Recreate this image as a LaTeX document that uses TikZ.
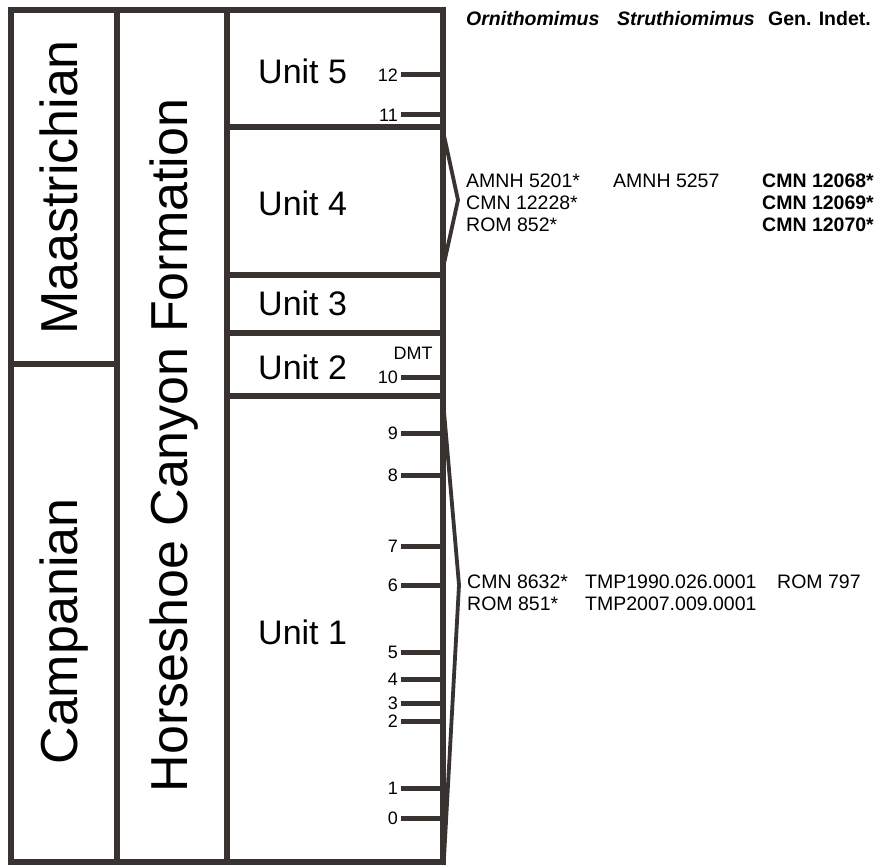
\documentclass[tikz,border=0pt]{standalone}
\usepackage{fontspec}
\setmainfont{Liberation Sans}
\definecolor{frame}{RGB}{56,50,48}
\tikzset{
  frameline/.style={draw=frame,line width=6.5pt,line cap=rect},
  tickline/.style={draw=frame,line width=5pt},
  bracketline/.style={draw=frame,line width=3.8pt,line join=miter},
  biglabel/.style={inner sep=0pt,anchor=base,rotate=90,font=\fontsize{52}{60}\selectfont},
  unitlabel/.style={inner sep=0pt,anchor=base west,font=\fontsize{34}{40}\selectfont},
  ticklabel/.style={inner sep=0pt,anchor=east,font=\fontsize{18}{20}\selectfont},
  spec/.style={inner sep=0pt,anchor=base west,font=\fontsize{19.5}{22}\selectfont},
  specb/.style={spec,font=\fontsize{19.5}{22}\selectfont\bfseries},
  specbi/.style={spec,font=\fontsize{19.5}{22}\selectfont\bfseries\itshape}
}
\begin{document}
\begin{tikzpicture}[x=1pt,y=-1pt]
\useasboundingbox (0,0) rectangle (877,866);
% frame coordinates
\coordinate (tl) at (11,10);
\coordinate (tr) at (443,10);
\coordinate (bl) at (11,862);
\coordinate (br) at (443,862);
% outer frame
\draw[frameline] (tl) -- (tr) -- (br) -- (bl) -- cycle;
% column dividers
\draw[frameline] (117,10) -- (117,862);
\draw[frameline] (227,10) -- (227,862);
% stage divider
\draw[frameline] (11,364) -- (117,364);
% unit dividers
\draw[frameline] (227,127) -- (443,127);
\draw[frameline] (227,275) -- (443,275);
\draw[frameline] (227,333) -- (443,333);
\draw[frameline] (227,396) -- (443,396);
% big labels
\node[biglabel] (maas) at (77,187.5) {Maastrichian};
\node[biglabel] (camp) at (77,631.5) {Campanian};
\node[biglabel] (hcf) at (187,445.5) {Horseshoe Canyon Formation};
% unit labels
\node[unitlabel] (u5) at (258,84) {Unit 5};
\node[unitlabel] (u4) at (258,216) {Unit 4};
\node[unitlabel] (u3) at (258,315) {Unit 3};
\node[unitlabel] (u2) at (258,379) {Unit 2};
\node[unitlabel] (u1) at (258,644) {Unit 1};
% ticks
\foreach \n/\y in {12/75,11/115,10/377,9/433,8/475,7/546,6/585,5/652,4/679,3/703,2/721,1/788,0/818}{
  \coordinate (t\n a) at (401,\y);
  \coordinate (t\n b) at (443,\y);
  \draw[tickline] (t\n a) -- (t\n b);
  \node[ticklabel] (l\n) at (398,\y) {\n};
}
\node[inner sep=0pt,font=\fontsize{18}{20}\selectfont] (dmt) at (413,353) {DMT};
% brackets
\coordinate (b4t) at (443,131);
\coordinate (b4p) at (458,200);
\coordinate (b4b) at (443,268);
\draw[bracketline] (b4t) -- (b4p) -- (b4b);
\coordinate (b1t) at (443,400);
\coordinate (b1p) at (459,585);
\coordinate (b1b) at (444,858);
\draw[bracketline] (b1t) -- (b1p) -- (b1b);
% header
\node[specbi] (hOrn) at (466,26) {Ornithomimus};
\node[specbi] (hStr) at (617,26) {Struthiomimus};
\node[specb] (hGen) at (768,26) {Gen. Indet.};
% unit 4 specimens
\node[spec] (s1) at (466,188) {AMNH 5201*};
\node[spec] (s2) at (466,210) {CMN 12228*};
\node[spec] (s3) at (466,232) {ROM 852*};
\node[spec] (s4) at (613,188) {AMNH 5257};
\node[specb] (s5) at (762,188) {CMN 12068*};
\node[specb] (s6) at (762,210) {CMN 12069*};
\node[specb] (s7) at (762,232) {CMN 12070*};
% unit 1 specimens
\node[spec] (s8) at (467,588) {CMN 8632*};
\node[spec] (s9) at (467,610) {ROM 851*};
\node[spec] (s10) at (585,588) {TMP1990.026.0001};
\node[spec] (s11) at (585,610) {TMP2007.009.0001};
\node[spec] (s12) at (777,588) {ROM 797};
\end{tikzpicture}
\end{document}
